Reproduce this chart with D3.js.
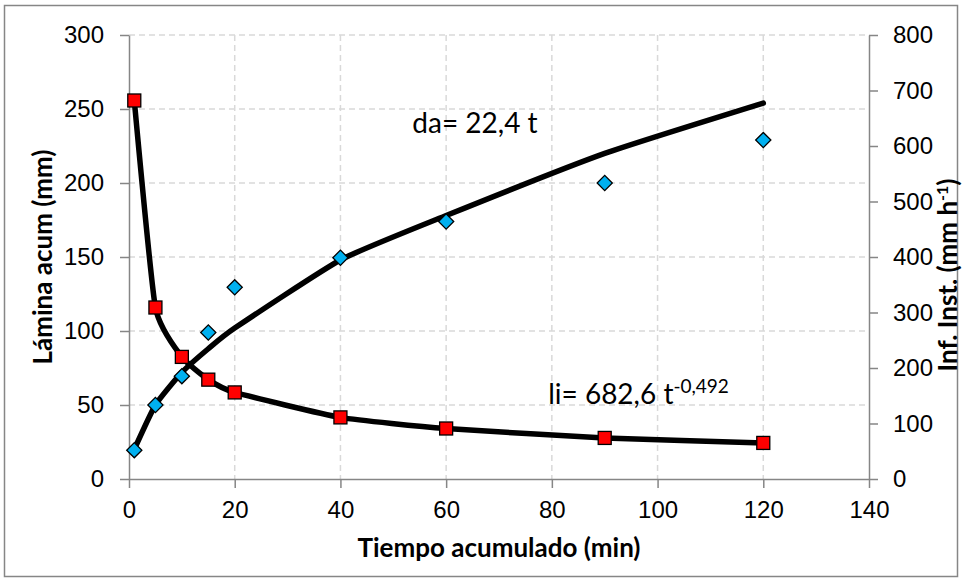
<!DOCTYPE html>
<html lang="es">
<head>
<meta charset="UTF-8">
<title>Lámina acumulada e infiltración instantánea</title>
<script src="https://d3js.org/d3.v7.min.js"></script>
<style>
    body { margin: 0; background: #fff; }
    svg { display: block; font-family: Lato, "Open Sans", sans-serif; }
    .tick text { font-size: 24px; fill: #000; }
    .axis path, .axis line { stroke: #868686; stroke-width: 1.5; }
    .grid line { stroke: #d9d9d9; stroke-width: 1.5; stroke-dasharray: 6 4; }
    .title { font-size: 26px; font-weight: bold; fill: #000; }
    .note { font-size: 28px; fill: #000; }
</style>
</head>
<body>
<svg id="chart" width="963" height="582"></svg>
<script>
// tiempo acumulado (min)
const tiempo = [1, 5, 10, 15, 20, 40, 60, 90, 120];
// lámina acumulada observada (mm) - rombos
const laminaObs = [19.5, 50, 69.5, 99, 129.5, 149.5, 174, 200, 229];
// lámina ajustada da (mm) - línea
const laminaAjuste = [20, 50, 72, 88, 102, 148, 178, 220, 254];
// infiltración instantánea (mm h-1) - cuadrados y línea
const infInst = [682, 309, 220, 179, 156, 111, 91, 74, 65];

const xTicks = [0, 20, 40, 60, 80, 100, 120, 140];
const yTicks = [0, 50, 100, 150, 200, 250, 300];
const y2Ticks = [0, 100, 200, 300, 400, 500, 600, 700, 800];

const svg = d3.select("#chart");
const margin = { top: 35, right: 94, bottom: 103, left: 129 };
const width = 963 - margin.left - margin.right;
const height = 582 - margin.top - margin.bottom;

// marco exterior
svg.append("rect")
    .attr("x", 4.5).attr("y", 5.5)
    .attr("width", 953).attr("height", 571)
    .attr("fill", "none").attr("stroke", "#868686").attr("stroke-width", 1.5);

const g = svg.append("g").attr("transform", `translate(${margin.left},${margin.top})`);

const x = d3.scaleLinear().domain([0, 140]).range([0, width]);
const y = d3.scaleLinear().domain([0, 300]).range([height, 0]);
const y2 = d3.scaleLinear().domain([0, 800]).range([height, 0]);

// líneas de cuadrícula
g.append("g").attr("class", "grid")
    .selectAll("line").data(yTicks.filter(d => d > 0)).enter().append("line")
    .attr("x1", 0).attr("x2", width)
    .attr("y1", d => y(d)).attr("y2", d => y(d));
g.append("g").attr("class", "grid")
    .selectAll("line").data(xTicks.filter(d => d > 0 && d < 140)).enter().append("line")
    .attr("y1", 0).attr("y2", height)
    .attr("x1", d => x(d)).attr("x2", d => x(d));

// ejes
g.append("g").attr("class", "axis")
    .attr("transform", `translate(0,${height})`)
    .call(d3.axisBottom(x).tickValues(xTicks).tickSize(9).tickSizeOuter(0).tickPadding(13));
g.append("g").attr("class", "axis")
    .call(d3.axisLeft(y).tickValues(yTicks).tickSize(9).tickSizeOuter(0).tickPadding(16));
g.append("g").attr("class", "axis")
    .attr("transform", `translate(${width},0)`)
    .call(d3.axisRight(y2).tickValues(y2Ticks).tickSize(9).tickSizeOuter(0).tickPadding(15));

// curvas suavizadas
const lineDa = d3.line()
    .x((d, i) => x(tiempo[i]))
    .y(d => y(d))
    .curve(d3.curveCardinal.tension(0.5));
const lineLi = d3.line()
    .x((d, i) => x(tiempo[i]))
    .y(d => y2(d))
    .curve(d3.curveCardinal.tension(0.5));

g.append("path").datum(laminaAjuste)
    .attr("d", lineDa)
    .attr("fill", "none").attr("stroke", "#000").attr("stroke-width", 5.5)
    .attr("stroke-linecap", "round").attr("stroke-linejoin", "round");
g.append("path").datum(infInst)
    .attr("d", lineLi)
    .attr("fill", "none").attr("stroke", "#000").attr("stroke-width", 5.5)
    .attr("stroke-linecap", "round").attr("stroke-linejoin", "round");

// marcadores cuadrados (infiltración instantánea)
g.selectAll(".sq").data(infInst).enter().append("rect")
    .attr("class", "sq")
    .attr("x", (d, i) => x(tiempo[i]) - 6.5)
    .attr("y", d => y2(d) - 6.5)
    .attr("width", 13).attr("height", 13)
    .attr("fill", "#ff0000").attr("stroke", "#000").attr("stroke-width", 1.3);

// marcadores rombo (lámina observada)
const diamond = d3.symbol().type(d3.symbolSquare).size(115);
g.selectAll(".dm").data(laminaObs).enter().append("path")
    .attr("class", "dm")
    .attr("d", diamond)
    .attr("transform", (d, i) => `translate(${x(tiempo[i])},${y(d)}) rotate(45)`)
    .attr("fill", "#00b0f0").attr("stroke", "#000").attr("stroke-width", 1.3);

// ecuaciones
g.append("text").attr("class", "note")
    .attr("x", x(53.6)).attr("y", y(234))
    .text("da= 22,4 t");
const li = g.append("text").attr("class", "note")
    .attr("x", x(79.3)).attr("y", y(51));
li.append("tspan").text("li= 682,6 t");
li.append("tspan").attr("dy", -11).style("font-size", "19px").text("-0,492");

// títulos de ejes
svg.append("text").attr("class", "title")
    .attr("text-anchor", "middle")
    .attr("x", margin.left + width / 2).attr("y", 557)
    .text("Tiempo acumulado (min)");
svg.append("text").attr("class", "title")
    .attr("text-anchor", "middle")
    .attr("transform", `translate(52,${margin.top + height / 2}) rotate(-90)`)
    .text("Lámina acum (mm)");
const t2 = svg.append("text").attr("class", "title")
    .attr("text-anchor", "middle")
    .attr("transform", `translate(957,${margin.top + height / 2 + 18}) rotate(-90)`);
t2.append("tspan").text("Inf. Inst. (mm h");
t2.append("tspan").attr("dy", -9).style("font-size", "16px").text("-1");
t2.append("tspan").attr("dy", 9).text(")");
</script>
</body>
</html>
